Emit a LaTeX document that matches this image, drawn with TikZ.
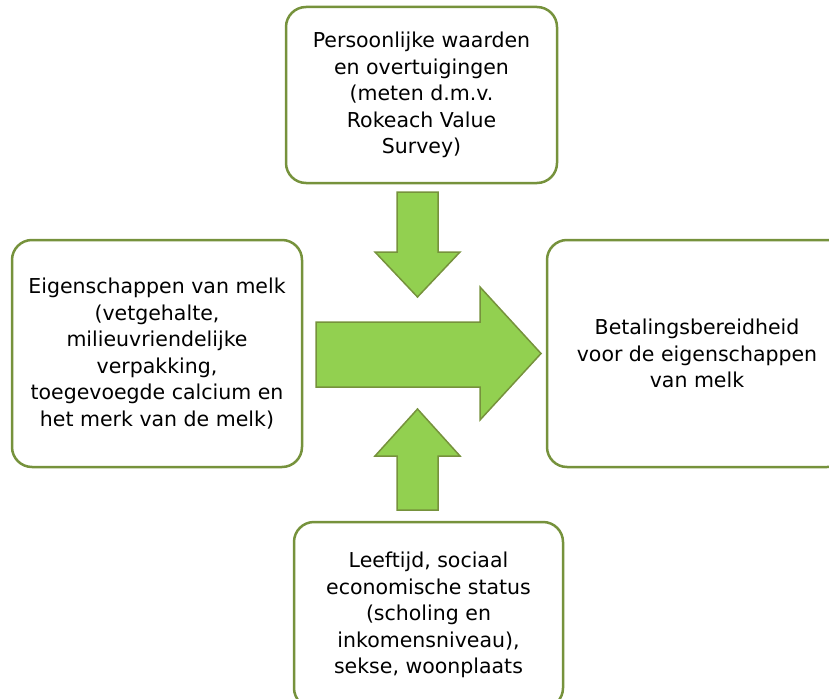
\documentclass[tikz,border=0pt]{standalone}
\usepackage{fontspec}
\setmainfont{DejaVu Sans}
\definecolor{rand}{RGB}{118,146,60}
\definecolor{pijl}{RGB}{146,208,80}
\tikzset{
  blok/.style={draw=rand, line width=2.5pt, rounded corners=20pt, fill=white,
    align=center, inner sep=0pt, font=\fontsize{20.5}{26.5}\selectfont},
  pijlvorm/.style={draw=rand, line width=1.5pt, fill=pijl, line join=miter}
}
\begin{document}
\begin{tikzpicture}[x=1pt,y=-1pt]
    \useasboundingbox (0,0) rectangle (829,698);
    \node[blok, minimum width=271pt, minimum height=176pt] (waarden) at (421.5,95)
      {Persoonlijke waarden\\en overtuigingen\\(meten d.m.v.\\Rokeach Value\\Survey)};
    \node[blok, minimum width=290pt, minimum height=227pt] (melk) at (157,353.5)
      {Eigenschappen van melk\\(vetgehalte,\\milieuvriendelijke\\verpakking,\\toegevoegde calcium en\\het merk van de melk)};
    \node[blok, minimum width=300pt, minimum height=227pt] (betaling) at (697,353.5)
      {Betalingsbereidheid\\voor de eigenschappen\\van melk};
    \node[blok, minimum width=269pt, minimum height=186pt] (achtergrond) at (428.5,615)
      {Leeftijd, sociaal\\economische status\\(scholing en\\inkomensniveau),\\sekse, woonplaats};
    % pijl omlaag, pijl naar rechts, pijl omhoog
    \draw[pijlvorm] (397,192) -- (438,192) -- (438,252) -- (460,252) -- (417.5,297)
      -- (375,252) -- (397,252) -- cycle;
    \draw[pijlvorm] (316,322) -- (480,322) -- (480,287) -- (541,353.5) -- (480,420)
      -- (480,387) -- (316,387) -- cycle;
    \draw[pijlvorm] (397,510) -- (438,510) -- (438,456) -- (460,456) -- (417.5,409)
      -- (375,456) -- (397,456) -- cycle;
\end{tikzpicture}
\end{document}
